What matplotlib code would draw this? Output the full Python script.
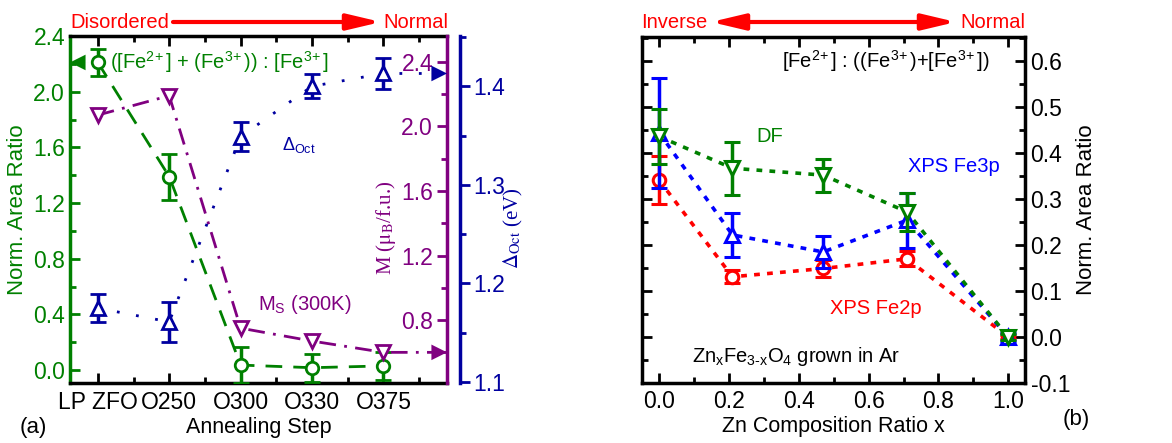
import matplotlib
matplotlib.use("Agg")
import matplotlib.pyplot as plt
import numpy as np
from matplotlib.ticker import MultipleLocator, FixedLocator, FormatStrFormatter

plt.rcParams['font.family'] = ['Liberation Sans', 'DejaVu Sans']
plt.rcParams['mathtext.fontset'] = 'custom'
plt.rcParams['mathtext.rm'] = 'Liberation Sans'
plt.rcParams['mathtext.it'] = 'Liberation Sans:italic'

# ---------------- Data: panel (a) ----------------
steps = ["LP ZFO", "O250", "O300", "O330", "O375"]
ratio_a = [2.21, 1.39, 0.036, 0.017, 0.03]
ratio_a_err = [0.10, 0.165, 0.13, 0.10, 0.10]
moment = [2.07, 2.19, 0.75, 0.67, 0.60]
delta_oct = [1.175, 1.161, 1.349, 1.400, 1.413]
delta_oct_err = [0.014, 0.02, 0.015, 0.012, 0.016]

# ---------------- Data: panel (b) ----------------
zn_x = [0.0, 0.21, 0.47, 0.71, 1.0]
fe2p = [0.341, 0.131, 0.149, 0.170, 0.0]
fe2p_err = [0.052, 0.014, 0.019, 0.016, 0.004]
fe3p = [0.444, 0.222, 0.185, 0.254, 0.0]
fe3p_err = [0.12, 0.047, 0.035, 0.06, 0.008]
df = [0.436, 0.367, 0.352, 0.272, 0.0]
df_err = [0.06, 0.058, 0.036, 0.041, 0.006]

GREEN = '#008000'
PURPLE = '#800080'
NAVY = '#0000a0'
BLUE = '#0000ff'
RED = '#ff0000'

fig = plt.figure(figsize=(11.72, 4.43), dpi=100)

# ================= Panel (a) =================
ax = fig.add_axes([0.0597, 0.1354, 0.3217, 0.7833])
axm = ax.twinx()
axd = ax.twinx()

xi = np.arange(len(steps))
ax.set_xlim(-0.39, 4.89)
ax.set_ylim(-0.093, 2.4)
axm.set_ylim(0.41, 2.56)
axd.set_ylim(1.099, 1.451)

# green ratio
ax.plot(xi, ratio_a, color=GREEN, ls=(0, (6, 4)), lw=2, zorder=3)
ax.errorbar(xi, ratio_a, yerr=ratio_a_err, fmt='o', ms=9, mfc='white', mec=GREEN,
            mew=2, ecolor=GREEN, elinewidth=2.5, capsize=6, capthick=2.5, zorder=4)
ax.annotate('', xy=(-0.39, ratio_a[0]), xytext=(-0.12, ratio_a[0]),
            arrowprops=dict(arrowstyle='-|>', color=GREEN, lw=0.01, mutation_scale=28,
                            shrinkA=0, shrinkB=0), zorder=5)

# purple moment
axm.plot(list(xi) + [4.87], moment + [moment[-1]], color=PURPLE, ls=(0, (6, 3, 1, 3)), lw=2, zorder=3)
axm.plot(xi, moment, 'v', ms=10, mfc='white', mec=PURPLE, mew=2, zorder=4, ls='none')
axm.annotate('', xy=(4.89, moment[-1]), xytext=(4.55, moment[-1]),
             arrowprops=dict(arrowstyle='-|>', color=PURPLE, lw=0.01, mutation_scale=28,
                             shrinkA=0, shrinkB=0), zorder=5)

# blue delta
axd.plot(list(xi) + [4.87], delta_oct + [delta_oct[-1]], color=NAVY, ls=(0, (1, 6)), lw=2, zorder=3)
axd.errorbar(xi, delta_oct, yerr=delta_oct_err, fmt='^', ms=10, mfc='white', mec=NAVY,
             mew=2, ecolor=NAVY, elinewidth=2.5, capsize=6, capthick=2.5, zorder=4)
axd.annotate('', xy=(4.89, delta_oct[-1]), xytext=(4.6, delta_oct[-1]),
             arrowprops=dict(arrowstyle='-|>', color=NAVY, lw=0.01, mutation_scale=28,
                             shrinkA=0, shrinkB=0), zorder=5)

# ticks/spines
ax.set_xticks(xi)
ax.set_xticklabels(steps, fontsize=16.5)
ax.xaxis.set_minor_locator(FixedLocator(np.arange(-0.5, 5, 0.5)))
ax.tick_params(axis='x', which='both', direction='in', top=True, width=2, length=7, pad=6)
ax.tick_params(axis='x', which='minor', length=4)
ax.yaxis.set_major_locator(MultipleLocator(0.4))
ax.yaxis.set_minor_locator(MultipleLocator(0.2))
ax.tick_params(axis='y', which='both', direction='in', colors=GREEN, width=2, length=7,
               labelsize=16.5, labelcolor=GREEN)
ax.tick_params(axis='y', which='minor', length=4)
ax.yaxis.set_major_formatter(FormatStrFormatter('%.1f'))
for s in ['top', 'bottom']:
    ax.spines[s].set_linewidth(2.5)
ax.spines['left'].set_color(GREEN)
ax.spines['left'].set_linewidth(2.5)
ax.spines['right'].set_visible(False)
for a in (axm, axd):
    a.spines['left'].set_visible(False)
    a.spines['top'].set_visible(False)
    a.spines['bottom'].set_visible(False)

axm.spines['right'].set_color(PURPLE)
axm.spines['right'].set_linewidth(2.5)
axm.yaxis.set_major_locator(MultipleLocator(0.4))
axm.yaxis.set_minor_locator(MultipleLocator(0.2))
axm.yaxis.set_major_formatter(FormatStrFormatter('%.1f'))
axm.tick_params(axis='y', which='both', direction='in', colors=PURPLE, width=2, length=7,
                labelsize=16.5, pad=-10)
axm.tick_params(axis='y', which='minor', length=4)
for t in axm.get_yticklabels():
    t.set_horizontalalignment('right')

axd.spines['right'].set_position(('outward', 9))
axd.spines['right'].set_color(NAVY)
axd.spines['right'].set_linewidth(2.5)
axd.yaxis.set_major_locator(MultipleLocator(0.1))
axd.yaxis.set_minor_locator(MultipleLocator(0.05))
axd.yaxis.set_major_formatter(FormatStrFormatter('%.1f'))
axd.tick_params(axis='y', which='both', direction='out', colors=NAVY, width=2, length=7,
                labelsize=16.5, pad=3)
axd.tick_params(axis='y', which='minor', length=4)

ax.set_xlabel('Annealing Step', fontsize=15.5, labelpad=2)
ax.set_ylabel('Norm. Area Ratio', fontsize=16, color=GREEN, labelpad=4)

fig.text(386 / 1172, 1 - 228 / 443, r'M ($\mathrm{\mu}_{\rm B}$/f.u.)', rotation=90, color=PURPLE,
         fontsize=15, family='Liberation Serif', ha='center', va='center',
         math_fontfamily='stix')
fig.text(513 / 1172, 1 - 228 / 443, r'$\Delta_{\rm Oct}$ (eV)', rotation=90, color=NAVY,
         fontsize=15, family='Liberation Serif', ha='center', va='center',
         math_fontfamily='stix')

ax.text(0.17, 2.21, r'([Fe$^{2\!+}$] + (Fe$^{3\!+}$)) : [Fe$^{3\!+}$]', color=GREEN, fontsize=14.5,
        va='center', ha='left')
fig.text(282 / 1172, 1 - 145 / 443, r'$\Delta_{\rm Oct}$', color=NAVY, fontsize=13,
         ha='left', va='center')
fig.text(258 / 1172, 1 - 305 / 443, r'M$_{\rm S}$ (300K)', color=PURPLE, fontsize=14.5,
         ha='left', va='center')

fig.text(70 / 1172, 1 - 22 / 443, 'Disordered', color=RED, fontsize=14.5, ha='left', va='center')
fig.text(448 / 1172, 1 - 22 / 443, 'Normal', color=RED, fontsize=14.5, ha='right', va='center')
fig.patches.append(matplotlib.patches.FancyArrowPatch(
    (173 / 1172, 1 - 22 / 443), (381 / 1172, 1 - 22 / 443), transform=fig.transFigure,
    arrowstyle='-|>,head_length=1.35,head_width=0.32', mutation_scale=15, color=RED, lw=3,
    shrinkA=0, shrinkB=0))
fig.text(20 / 1172, 1 - 428 / 443, '(a)', fontsize=16, ha='left', va='center')

# ================= Panel (b) =================
bx = fig.add_axes([0.5475, 0.1354, 0.3271, 0.7818])
bx.set_xlim(-0.05, 1.048)
bx.set_ylim(-0.1, 0.653)

dot = (0, (1.6, 2.0))
bx.plot(zn_x, fe2p, color=RED, ls=dot, lw=2.6, zorder=3)
bx.plot(zn_x, fe3p, color=BLUE, ls=dot, lw=2.6, zorder=3)
bx.plot(zn_x, df, color=GREEN, ls=dot, lw=2.6, zorder=3)
bx.errorbar(zn_x, fe2p, yerr=fe2p_err, fmt='o', ms=9, mfc='white', mec=RED, mew=2.2,
            ecolor=RED, elinewidth=2.5, capsize=6, capthick=2.5, zorder=4)
bx.errorbar(zn_x, fe3p, yerr=fe3p_err, fmt='^', ms=10, mfc='white', mec=BLUE, mew=2.2,
            ecolor=BLUE, elinewidth=2.5, capsize=6, capthick=2.5, zorder=5)
bx.errorbar(zn_x, df, yerr=df_err, fmt='v', ms=10, mfc='white', mec=GREEN, mew=2.2,
            ecolor=GREEN, elinewidth=2.5, capsize=6, capthick=2.5, zorder=6)

bx.xaxis.set_major_locator(MultipleLocator(0.2))
bx.xaxis.set_minor_locator(MultipleLocator(0.1))
bx.yaxis.set_major_locator(MultipleLocator(0.1))
bx.yaxis.set_minor_locator(MultipleLocator(0.05))
bx.xaxis.set_major_formatter(FormatStrFormatter('%.1f'))
bx.yaxis.set_major_formatter(FormatStrFormatter('%.1f'))
bx.tick_params(which='both', direction='in', top=True, right=True, left=True,
               labelleft=False, labelright=True, width=2, length=7, labelsize=16.5, pad=5)
bx.tick_params(axis='y', pad=4)
bx.tick_params(which='minor', length=4)
for s in bx.spines.values():
    s.set_linewidth(2.5)
bx.yaxis.set_label_position('right')
bx.set_ylabel('Norm. Area Ratio', fontsize=16, labelpad=4)
bx.set_xlabel('Zn Composition Ratio x', fontsize=15.5, labelpad=2)

bx.text(0.945, 0.6, r'[Fe$^{2\!+}$] : ((Fe$^{3\!+}$)+[Fe$^{3\!+}$])', fontsize=14.5, ha='right',
        va='center')
bx.text(0.317, 0.436, 'DF', color=GREEN, fontsize=14.5, ha='center', va='center')
bx.text(0.976, 0.37, 'XPS Fe3p', color=BLUE, fontsize=14.5, ha='right', va='center')
bx.text(0.49, 0.063, 'XPS Fe2p', color=RED, fontsize=14.5, ha='left', va='center')
bx.text(0.095, -0.043, r'Zn$_{\rm x}$Fe$_{\rm 3\text{-}x}$O$_{\rm 4}$ grown in Ar', fontsize=14.5,
        ha='left', va='center')

fig.text(641 / 1172, 1 - 22 / 443, 'Inverse', color=RED, fontsize=14.5, ha='left', va='center')
fig.text(1025 / 1172, 1 - 22 / 443, 'Normal', color=RED, fontsize=14.5, ha='right', va='center')
fig.patches.append(matplotlib.patches.FancyArrowPatch(
    (711 / 1172, 1 - 22 / 443), (956 / 1172, 1 - 22 / 443), transform=fig.transFigure,
    arrowstyle='<|-|>,head_length=1.35,head_width=0.32', mutation_scale=15, color=RED, lw=3,
    shrinkA=0, shrinkB=0))
fig.text(1063 / 1172, 1 - 420 / 443, '(b)', fontsize=16, ha='left', va='center')

fig.savefig('out.png', dpi=100)
